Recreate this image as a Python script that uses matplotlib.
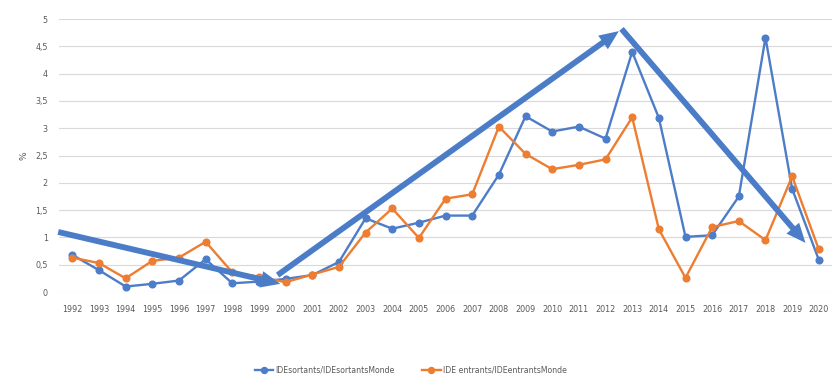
import matplotlib.pyplot as plt
import numpy as np

years = [str(y) for y in range(1992, 2021)]
ide_sortants = [0.68, 0.40, 0.10, 0.15, 0.21, 0.60, 0.16, 0.19, 0.24, 0.31, 0.55,
                1.35, 1.16, 1.27, 1.40, 1.40, 2.15, 3.22, 2.94, 3.03, 2.81, 4.40,
                3.19, 1.01, 1.04, 1.75, 4.66, 1.89, 0.59]
ide_entrants = [0.63, 0.53, 0.25, 0.57, 0.63, 0.92, 0.36, 0.28, 0.18, 0.32, 0.46,
                1.09, 1.53, 0.99, 1.71, 1.79, 3.03, 2.53, 2.25, 2.33, 2.43, 3.20,
                1.15, 0.26, 1.19, 1.30, 0.95, 2.12, 0.78]

# trend arrows drawn on top (x as position index, y in %)
arrows = [((-0.53, 1.10), (7.8, 0.15)),
          ((7.7, 0.31), (20.5, 4.78)),
          ((20.6, 4.82), (27.5, 0.90))]

blue = '#4D7DC9'
orange = '#ED7D31'
grey = '#595959'

fig = plt.figure(figsize=(8.38, 3.82), dpi=100)
ax = fig.add_axes([0.0704, 0.2356, 0.9226, 0.7144])

x = np.arange(len(years))
ax.plot(x, ide_sortants, color=blue, lw=1.7, marker='o', ms=4.8,
        label='IDEsortants/IDEsortantsMonde')
ax.plot(x, ide_entrants, color=orange, lw=1.7, marker='o', ms=4.8,
        label='IDE entrants/IDEentrantsMonde')

for start, end in arrows:
    ax.annotate('', xy=end, xytext=start,
                arrowprops=dict(arrowstyle='simple,head_length=1.4,head_width=1.2,tail_width=0.42',
                                color='#4A7CC8', lw=0, mutation_scale=10,
                                shrinkA=0, shrinkB=0),
                annotation_clip=False)

ax.set_xlim(-0.5, len(years) - 0.5)
ax.set_ylim(0, 5)
ax.set_xticks(x)
ax.set_xticklabels(years)
yt = np.arange(0, 5.01, 0.5)
ax.set_yticks(yt)
ax.set_yticklabels([('%g' % v).replace('.', ',') for v in yt])
ax.tick_params(length=0, labelsize=5.8, colors=grey, pad=9)
ax.tick_params(axis='y', pad=8)
ax.grid(axis='y', color='#D9D9D9', lw=0.8)
ax.set_axisbelow(True)
for s in ax.spines.values():
    s.set_visible(False)
ax.set_ylabel('%', fontsize=6.5, color=grey, labelpad=5)

ax.legend(loc='center', bbox_to_anchor=(0.455, -0.285), ncol=2, frameon=False,
          fontsize=5.6, labelcolor=grey, columnspacing=3.5, handlelength=2.4,
          handletextpad=0.3, markerscale=0.9)

fig.savefig('out.png', dpi=100)
